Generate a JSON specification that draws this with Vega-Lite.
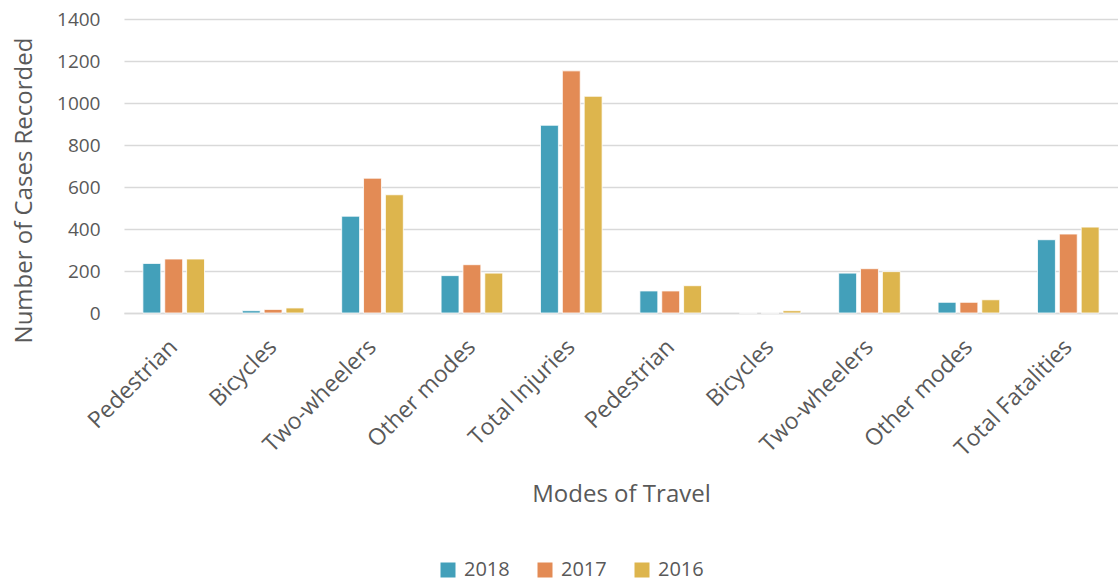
{
  "$schema": "https://vega.github.io/schema/vega-lite/v6.json",
  "width": 994,
  "height": 294,
  "autosize": {"type": "none"},
  "padding": {"left": 124, "top": 19, "right": 0, "bottom": 273},
  "background": "white",
  "data": {
    "values": [
      {"mode": "Pedestrian|I", "year": "2018", "cases": 236},
      {"mode": "Pedestrian|I", "year": "2017", "cases": 257},
      {"mode": "Pedestrian|I", "year": "2016", "cases": 257},
      {"mode": "Bicycles|I", "year": "2018", "cases": 11},
      {"mode": "Bicycles|I", "year": "2017", "cases": 17},
      {"mode": "Bicycles|I", "year": "2016", "cases": 24},
      {"mode": "Two-wheelers|I", "year": "2018", "cases": 461},
      {"mode": "Two-wheelers|I", "year": "2017", "cases": 642},
      {"mode": "Two-wheelers|I", "year": "2016", "cases": 563},
      {"mode": "Other modes|I", "year": "2018", "cases": 178},
      {"mode": "Other modes|I", "year": "2017", "cases": 230},
      {"mode": "Other modes|I", "year": "2016", "cases": 190},
      {"mode": "Total Injuries", "year": "2018", "cases": 894},
      {"mode": "Total Injuries", "year": "2017", "cases": 1153},
      {"mode": "Total Injuries", "year": "2016", "cases": 1032},
      {"mode": "Pedestrian|F", "year": "2018", "cases": 105},
      {"mode": "Pedestrian|F", "year": "2017", "cases": 105},
      {"mode": "Pedestrian|F", "year": "2016", "cases": 130},
      {"mode": "Bicycles|F", "year": "2018", "cases": 0},
      {"mode": "Bicycles|F", "year": "2017", "cases": 0},
      {"mode": "Bicycles|F", "year": "2016", "cases": 11},
      {"mode": "Two-wheelers|F", "year": "2018", "cases": 190},
      {"mode": "Two-wheelers|F", "year": "2017", "cases": 211},
      {"mode": "Two-wheelers|F", "year": "2016", "cases": 197},
      {"mode": "Other modes|F", "year": "2018", "cases": 51},
      {"mode": "Other modes|F", "year": "2017", "cases": 51},
      {"mode": "Other modes|F", "year": "2016", "cases": 63},
      {"mode": "Total Fatalities", "year": "2018", "cases": 349},
      {"mode": "Total Fatalities", "year": "2017", "cases": 376},
      {"mode": "Total Fatalities", "year": "2016", "cases": 409}
    ]
  },
  "mark": {"type": "bar", "stroke": "white", "strokeOpacity": 0.8, "strokeWidth": 1},
  "encoding": {
    "x": {
      "field": "mode",
      "type": "nominal",
      "sort": null,
      "scale": {"paddingInner": 0.38, "paddingOuter": 0.19},
      "axis": {
        "title": "Modes of Travel",
        "labelExpr": "split(datum.value, '|')[0]",
        "labelAngle": -45,
        "labelAlign": "right",
        "labelBaseline": "middle",
        "labelFont": "Open Sans",
        "labelFontSize": 23,
        "labelColor": "#595959",
        "labelPadding": 30,
        "ticks": false,
        "domain": true,
        "domainColor": "#D9D9D9",
        "domainWidth": 1.5,
        "titleFont": "Open Sans",
        "titleFontSize": 24,
        "titleFontWeight": "normal",
        "titleColor": "#595959",
        "titlePadding": 22
      }
    },
    "xOffset": {"field": "year", "type": "nominal", "sort": ["2018", "2017", "2016"], "scale": {"paddingInner": 0.18}},
    "y": {
      "field": "cases",
      "type": "quantitative",
      "scale": {"domain": [0, 1400]},
      "axis": {
        "title": "Number of Cases Recorded",
        "values": [0, 200, 400, 600, 800, 1000, 1200, 1400],
        "format": "d",
        "grid": true,
        "gridColor": "#D9D9D9",
        "gridWidth": 1.5,
        "domain": false,
        "ticks": false,
        "labelFont": "Open Sans",
        "labelFontSize": 19,
        "labelColor": "#595959",
        "labelPadding": 24,
        "titleFont": "Open Sans",
        "titleFontSize": 24,
        "titleFontWeight": "normal",
        "titleColor": "#595959",
        "titlePadding": 20,
        "titleY": 171
      }
    },
    "color": {
      "field": "year",
      "type": "nominal",
      "sort": ["2018", "2017", "2016"],
      "scale": {"domain": ["2018", "2017", "2016"], "range": ["#43A0BA", "#E38B55", "#DDB54D"]},
      "legend": {
        "title": null,
        "orient": "none",
        "legendX": 314,
        "legendY": 541,
        "direction": "horizontal",
        "symbolType": "square",
        "symbolSize": 225,
        "symbolStrokeWidth": 0,
        "labelFont": "Open Sans",
        "labelFontSize": 20,
        "labelColor": "#595959",
        "labelOffset": 6,
        "columnPadding": 25
      }
    }
  },
  "config": {"view": {"stroke": null}}
}
